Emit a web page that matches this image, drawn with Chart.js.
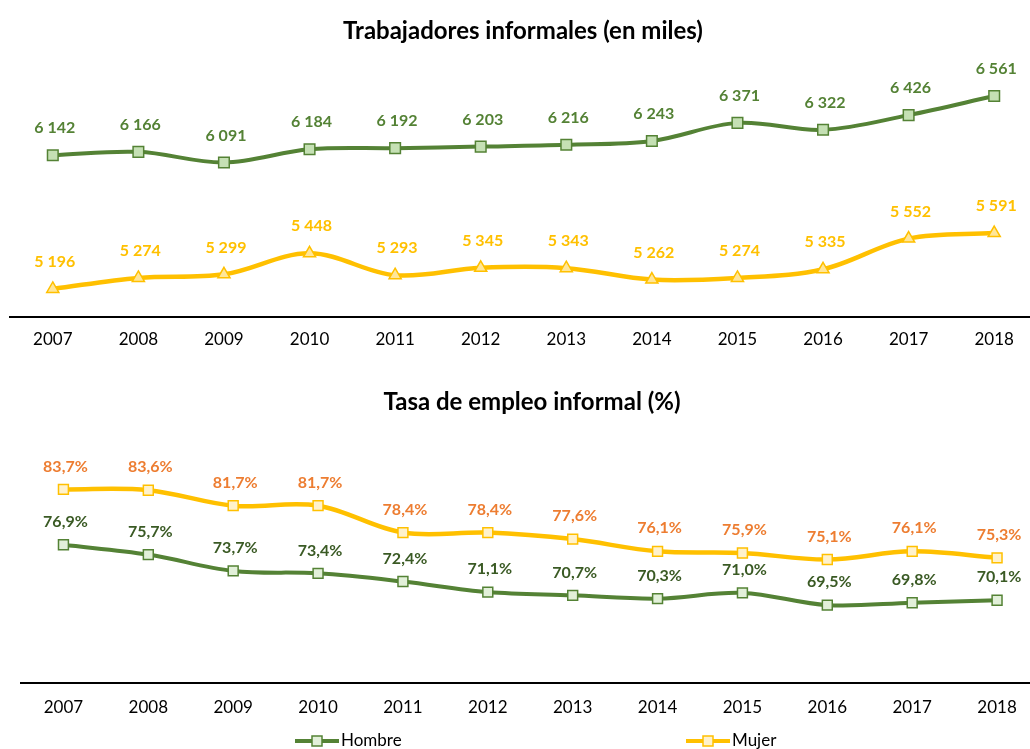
<!DOCTYPE html>
<html>
<head>
<meta charset="utf-8">
<script src="https://cdn.jsdelivr.net/npm/chart.js@4.4.1/dist/chart.umd.min.js"></script>
<style>
  body { margin:0; background:#fff; width:1030px; height:749px; overflow:hidden; position:relative; font-family:Lato, sans-serif; }
  .box { position:absolute; left:0; }
  .ttl { position:absolute; width:1030px; text-align:center; font-weight:bold; font-size:24px; line-height:28px; color:#000; z-index:2; }
</style>
</head>
<body>
<div class="ttl" style="top:16px;left:8px">Trabajadores informales (en miles)</div>
<div class="box" style="top:0"><canvas id="chartMiles" width="1046" height="373"></canvas></div>
<div class="ttl" style="top:387px;left:17px">Tasa de empleo informal (%)</div>
<div class="box" style="top:380px"><canvas id="chartTasa" width="1048" height="384"></canvas></div>

<script>
// datos
const years = ['2007','2008','2009','2010','2011','2012','2013','2014','2015','2016','2017','2018'];
const hombreMiles = [6142, 6166, 6091, 6184, 6192, 6203, 6216, 6243, 6371, 6322, 6426, 6561];
const mujerMiles  = [5196, 5274, 5299, 5448, 5293, 5345, 5343, 5262, 5274, 5335, 5552, 5591];
const hombreTasa  = [76.9, 75.7, 73.7, 73.4, 72.4, 71.1, 70.7, 70.3, 71.0, 69.5, 69.8, 70.1];
const mujerTasa   = [83.7, 83.6, 81.7, 81.7, 78.4, 78.4, 77.6, 76.1, 75.9, 75.1, 76.1, 75.3];

const GREEN = '#548235', YELLOW = '#FFC000';

const fmtMiles = v => String(v).replace(/\B(?=(\d{3})+(?!\d))/g, ' ');
const fmtPct = v => v.toFixed(1).replace('.', ',') + '%';

// etiquetas de valor encima de cada punto
function makeLabels(fmt, offset) {
  return {
    id: 'valueLabels',
    afterDatasetsDraw(chart) {
      const ctx = chart.ctx;
      ctx.save();
      ctx.font = 'bold 16px Lato';
      ctx.textAlign = 'center';
      ctx.textBaseline = 'middle';
      chart.data.datasets.forEach((ds, i) => {
        ctx.fillStyle = ds.labelColor;
        chart.getDatasetMeta(i).data.forEach((pt, j) => {
          ctx.fillText(fmt(ds.data[j]), pt.x + 2, pt.y - offset);
        });
      });
      ctx.restore();
    }
  };
}

// leyenda tipo Excel: linea con marcador al centro
const lineLegend = {
  id: 'lineLegend',
  afterDraw(chart) {
    const ctx = chart.ctx, y = 361;
    const starts = [295, 686];
    ctx.save();
    chart.data.datasets.forEach((ds, i) => {
      const x0 = starts[i], len = 44;
      ctx.strokeStyle = ds.borderColor;
      ctx.lineWidth = 4;
      ctx.beginPath(); ctx.moveTo(x0, y); ctx.lineTo(x0 + len, y); ctx.stroke();
      ctx.fillStyle = ds.pointBackgroundColor;
      ctx.strokeStyle = ds.pointBorderColor;
      ctx.lineWidth = 1.5;
      ctx.fillRect(x0 + len/2 - 5, y - 5, 10, 10);
      ctx.strokeRect(x0 + len/2 - 5, y - 5, 10, 10);
      ctx.fillStyle = '#000';
      ctx.font = '17px Lato';
      ctx.textBaseline = 'middle';
      ctx.fillText(ds.label, x0 + len + 2, y);
    });
    ctx.restore();
  }
};

function xAxis(pad) {
  return {
    offset: true,
    grid: { display: false, drawTicks: false },
    border: { display: true, color: '#000', width: 2 },
    ticks: { color: '#000', font: { size: 17, family: 'Lato' }, padding: pad }
  };
}

Chart.defaults.font.family = 'Lato';

new Chart(document.getElementById('chartMiles'), {
  type: 'line',
  data: {
    labels: years,
    datasets: [
      { label: 'Hombre', data: hombreMiles, borderColor: GREEN, borderWidth: 4, tension: 0.35,
        pointStyle: 'rect', pointRadius: 7.5, pointBackgroundColor: '#C5E0B4', pointBorderColor: GREEN,
        pointBorderWidth: 1.5, labelColor: GREEN },
      { label: 'Mujer', data: mujerMiles, borderColor: YELLOW, borderWidth: 4.5, tension: 0.35,
        pointStyle: 'triangle', pointRadius: 7, pointBackgroundColor: '#FFE699', pointBorderColor: YELLOW,
        pointBorderWidth: 1.5, labelColor: YELLOW }
    ]
  },
  options: {
    responsive: false, animation: false,
    layout: { padding: { left: 10, right: 4, top: 34, bottom: 10 } },
    plugins: { legend: { display: false }, tooltip: { enabled: false } },
    scales: {
      x: xAxis(13),
      y: { display: false, min: 5000, max: 7000 }
    }
  },
  plugins: [makeLabels(fmtMiles, 27)]
});

new Chart(document.getElementById('chartTasa'), {
  type: 'line',
  data: {
    labels: years,
    datasets: [
      { label: 'Hombre', data: hombreTasa, borderColor: GREEN, borderWidth: 4, tension: 0.35,
        pointStyle: 'rect', pointRadius: 7, pointBackgroundColor: '#E2F0D9', pointBorderColor: GREEN,
        pointBorderWidth: 1.5, labelColor: '#3A5A24' },
      { label: 'Mujer', data: mujerTasa, borderColor: YELLOW, borderWidth: 4.5, tension: 0.35,
        pointStyle: 'rect', pointRadius: 7, pointBackgroundColor: '#FFF2CC', pointBorderColor: YELLOW,
        pointBorderWidth: 1.5, labelColor: '#ED7D31' }
    ]
  },
  options: {
    responsive: false, animation: false,
    layout: { padding: { left: 21, right: 0, top: 58, bottom: 31 } },
    plugins: { legend: { display: false }, tooltip: { enabled: false } },
    scales: {
      x: xAxis(15),
      y: { display: false, min: 60, max: 90 }
    }
  },
  plugins: [makeLabels(fmtPct, 23), lineLegend]
});
</script>
</body>
</html>
